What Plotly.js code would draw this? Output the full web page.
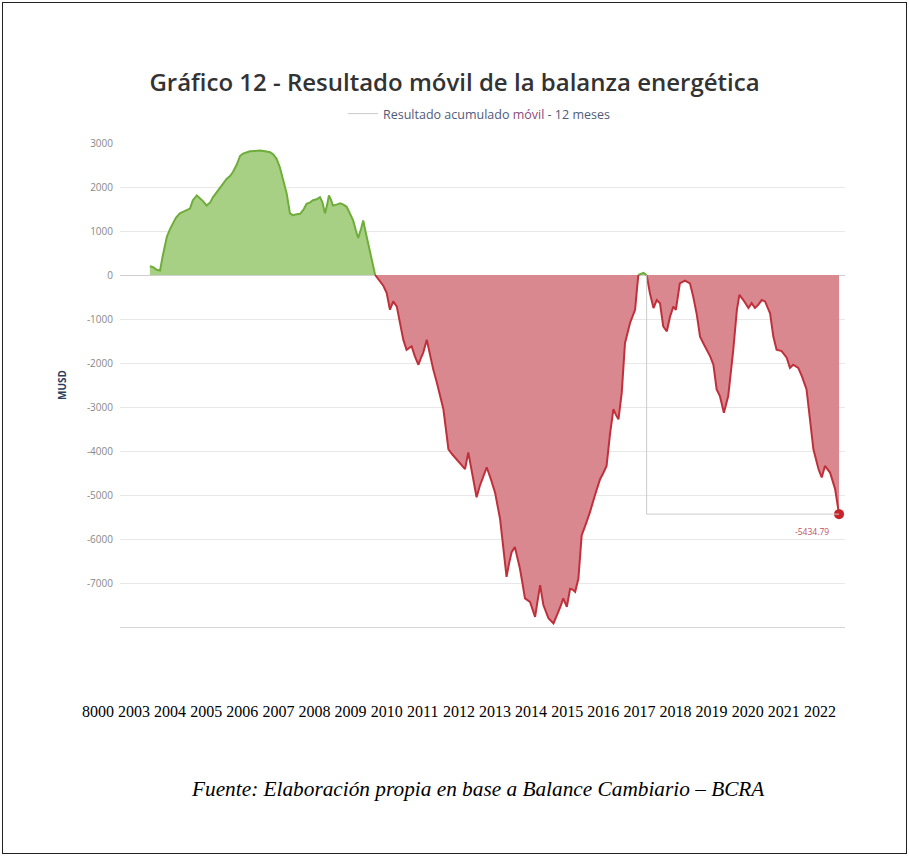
<!DOCTYPE html>
<html><head><meta charset="utf-8">
<script src="https://cdn.plot.ly/plotly-3.0.1.min.js"></script>
<style>
html,body{margin:0;padding:0;background:#fff}
#wrap{position:relative;width:909px;height:856px}
#chart{width:909px;height:856px}
#frame{position:absolute;left:2px;top:2px;right:2px;bottom:2px;border:1px solid #222;pointer-events:none}
</style>
</head><body>
<div id="wrap"><div id="chart"></div><div id="frame"></div></div>
<script>
const titleText = 'Gráfico 12 - Resultado móvil de la balanza energética';
const seriesName = 'Resultado acumulado <span style="color:#8a4a78">móvil</span> - 12 meses';
const yTitle = 'MUSD';
const sourceText = 'Fuente: Elaboración propia en base a Balance Cambiario – BCRA';

const years = [
2003.44,2003.53,2003.63,2003.72,2003.80,2003.91,2004.00,2004.08,2004.16,2004.27,2004.41,2004.55,2004.63,2004.74,2004.83,2004.91,
2005.01,2005.11,2005.19,2005.29,2005.38,2005.47,2005.57,2005.66,2005.74,2005.84,2005.94,2006.02,2006.12,2006.21,2006.35,2006.49,
2006.63,2006.77,2006.86,2006.95,2007.04,2007.13,2007.23,2007.32,2007.40,2007.51,2007.60,2007.69,2007.78,2007.88,2007.96,2008.06,
2008.15,2008.22,2008.29,2008.35,2008.40,2008.46,2008.51,2008.61,2008.71,2008.80,2008.89,2008.98,2009.07,2009.15,2009.21,2009.29,
2009.35,2009.41,2009.48,2009.57,2009.68,
2009.76,2009.81,2009.91,2010.00,2010.09,2010.18,2010.28,2010.37,2010.46,2010.55,2010.62,2010.69,2010.78,2010.88,2010.94,2011.01,
2011.11,2011.20,2011.29,2011.39,2011.48,2011.57,2011.64,2011.71,2011.82,2011.94,2012.05,2012.17,2012.26,2012.34,2012.40,2012.49,
2012.58,2012.68,2012.77,2012.89,2013.00,2013.14,2013.23,2013.32,2013.39,2013.46,2013.55,2013.62,2013.69,2013.76,2013.83,2013.97,
2014.04,2014.11,2014.18,2014.25,2014.34,2014.48,2014.62,2014.69,2014.75,2014.83,2014.89,2014.99,2015.08,2015.15,2015.22,2015.31,
2015.35,2015.40,2015.52,2015.63,2015.77,2015.91,2016.00,2016.09,2016.19,2016.28,2016.35,2016.42,2016.51,2016.60,2016.74,2016.88,
2016.93,2016.97,
2017.04,2017.11,2017.16,2017.20,
2017.29,2017.39,2017.48,2017.57,2017.66,2017.76,2017.85,2017.94,2018.01,2018.12,2018.26,2018.40,2018.49,2018.59,2018.68,2018.77,
2018.86,2018.96,2019.05,2019.14,2019.23,2019.34,2019.46,2019.60,2019.70,2019.77,2019.88,2020.02,2020.11,2020.20,2020.29,2020.39,
2020.48,2020.62,2020.71,2020.80,2020.94,2021.08,2021.17,2021.26,2021.40,2021.50,2021.63,2021.73,2021.82,2021.96,2022.05,2022.14,
2022.28,2022.42,2022.53
];
const values = [
200,180,120,100,450,870,1050,1170,1300,1400,1460,1510,1700,1810,1740,1680,
1580,1650,1770,1880,2000,2090,2190,2250,2340,2500,2710,2760,2790,2810,2820,2830,
2810,2790,2740,2640,2450,2190,1850,1400,1360,1380,1390,1480,1620,1650,1700,1720,
1770,1650,1400,1600,1810,1700,1580,1600,1630,1600,1550,1400,1240,1000,840,1050,
1240,1000,720,400,0,
-80,-150,-250,-410,-790,-600,-720,-1100,-1470,-1700,-1650,-1620,-1850,-2040,-1900,-1770,
-1470,-1850,-2150,-2450,-2750,-3050,-3500,-3960,-4080,-4190,-4300,-4410,-4030,-4400,-4640,-5050,
-4790,-4550,-4370,-4650,-4940,-5540,-6150,-6860,-6550,-6300,-6180,-6400,-6670,-7000,-7350,-7430,
-7600,-7770,-7400,-7050,-7500,-7800,-7920,-7800,-7660,-7500,-7350,-7540,-7130,-7150,-7200,-6900,
-6400,-5920,-5650,-5390,-5000,-4640,-4500,-4340,-3580,-3050,-3180,-3280,-2680,-1550,-1090,-790,
-340,0,
30,50,20,0,
-410,-750,-570,-640,-1170,-1280,-940,-720,-790,-190,-130,-190,-490,-900,-1400,-1550,
-1700,-1850,-2040,-2600,-2750,-3130,-2750,-1700,-790,-450,-570,-750,-640,-750,-680,-570,
-600,-870,-1400,-1700,-1730,-1880,-2110,-2040,-2110,-2300,-2600,-3280,-3960,-4410,-4600,-4340,
-4490,-4860,-5434.79
];

const yTicks = [3000,2000,1000,0,-1000,-2000,-3000,-4000,-5000,-6000,-7000];
const xTickYears = [2002,2003,2004,2005,2006,2007,2008,2009,2010,2011,2012,2013,2014,2015,2016,2017,2018,2019,2020,2021,2022];
const xTickLabels = ['8000','2003','2004','2005','2006','2007','2008','2009','2010','2011','2012','2013','2014','2015','2016','2017','2018','2019','2020','2021','2022'];

const posY = values.map(v => v >= 0 ? v : null);
const negY = values.map(v => v <= 0 ? v : null);
const lastX = years[years.length - 1];
const lastY = values[values.length - 1];
let lastZeroIdx = 0;
values.forEach((v, i) => { if (v >= 0) lastZeroIdx = i; });
const guideX = years[lastZeroIdx];

const traces = [
  {x: years, y: posY, type: 'scatter', mode: 'lines', fill: 'tozeroy', fillcolor: '#a8d084',
   line: {color: '#6fad3a', width: 2}, connectgaps: false, showlegend: false, hoverinfo: 'x+y'},
  {x: years, y: negY, type: 'scatter', mode: 'lines', fill: 'tozeroy', fillcolor: '#da8890',
   line: {color: '#c0303b', width: 2}, connectgaps: false, showlegend: false, hoverinfo: 'x+y'},
  {x: [lastX], y: [lastY], type: 'scatter', mode: 'markers', marker: {color: '#c8232b', size: 10},
   showlegend: false, hoverinfo: 'x+y'},
  {x: [null], y: [null], type: 'scatter', mode: 'lines', name: seriesName,
   line: {color: '#c8c8c8', width: 1}, showlegend: true},
  {x: xTickYears, y: xTickYears.map(() => null), xaxis: 'x2', yaxis: 'y2', type: 'scatter', mode: 'markers',
   showlegend: false, hoverinfo: 'skip'}
];

const layout = {
  width: 909, height: 856,
  margin: {l: 80, r: 64, t: 143, b: 156},
  paper_bgcolor: '#ffffff', plot_bgcolor: 'rgba(0,0,0,0)',
  title: {text: titleText, xref: 'container', x: 0.5, yref: 'container', y: 1 - 83/856, yanchor: 'middle',
          font: {family: 'Open Sans', size: 24, weight: 600, color: '#333333'}},
  xaxis: {domain: [40/765, 1], range: [2002.612, 2022.695], showgrid: false, zeroline: false,
          showline: true, linecolor: '#d6d6d6', linewidth: 1, showticklabels: false, ticks: '', fixedrange: true},
  yaxis: {domain: [73/557, 1], range: [-8000, 3000], tickvals: yTicks, ticktext: yTicks.map(String),
          showgrid: true, gridcolor: '#e8e8e8', gridwidth: 1, zeroline: true, zerolinecolor: '#cfcfcf', zerolinewidth: 1,
          showline: false, ticks: '', ticklabelstandoff: 6,
          tickfont: {family: 'Open Sans', size: 10, color: '#888888'},
          title: {text: '<b>' + yTitle + '</b>', standoff: 18, font: {family: 'Open Sans', size: 10, color: '#2b3d5c'}},
          fixedrange: true},
  xaxis2: {domain: [0, 1], range: [2001.504, 2022.695], anchor: 'free', position: 0,
           tickvals: xTickYears, ticktext: xTickLabels, showgrid: false, zeroline: false, showline: false, ticks: '',
           tickfont: {family: 'Liberation Serif', size: 16, color: '#000000'}, fixedrange: true},
  yaxis2: {domain: [73/557, 1], range: [0, 1], visible: false, showgrid: false, anchor: 'x2', fixedrange: true},
  showlegend: true,
  legend: {orientation: 'h', x: (343 - 80)/765, xanchor: 'left', y: (700 - 114)/557, yanchor: 'middle',
           bgcolor: 'rgba(0,0,0,0)', font: {family: 'Open Sans', size: 12.5, color: '#4f5b7a'}},
  shapes: [
    {type: 'line', xref: 'x', yref: 'y', x0: guideX, x1: guideX, y0: 0, y1: lastY, line: {color: '#cccccc', width: 1}},
    {type: 'line', xref: 'x', yref: 'y', x0: guideX, x1: lastX, y0: lastY, y1: lastY, line: {color: '#cccccc', width: 1}}
  ],
  annotations: [
    {x: lastX, y: lastY, xref: 'x', yref: 'y', text: lastY.toFixed(2), showarrow: false,
     xanchor: 'right', yanchor: 'top', xshift: -8, yshift: -10,
     font: {family: 'Open Sans', size: 8.5, color: '#c0506a'}},
    {x: (478 - 80)/765, y: (700 - 789)/557, xref: 'paper', yref: 'paper', text: '<i>' + sourceText + '</i>',
     showarrow: false, xanchor: 'center', yanchor: 'middle',
     font: {family: 'Liberation Serif', size: 21.3, color: '#000000'}}
  ]
};

Plotly.newPlot('chart', traces, layout, {displayModeBar: false, staticPlot: true});
</script>
</body></html>
